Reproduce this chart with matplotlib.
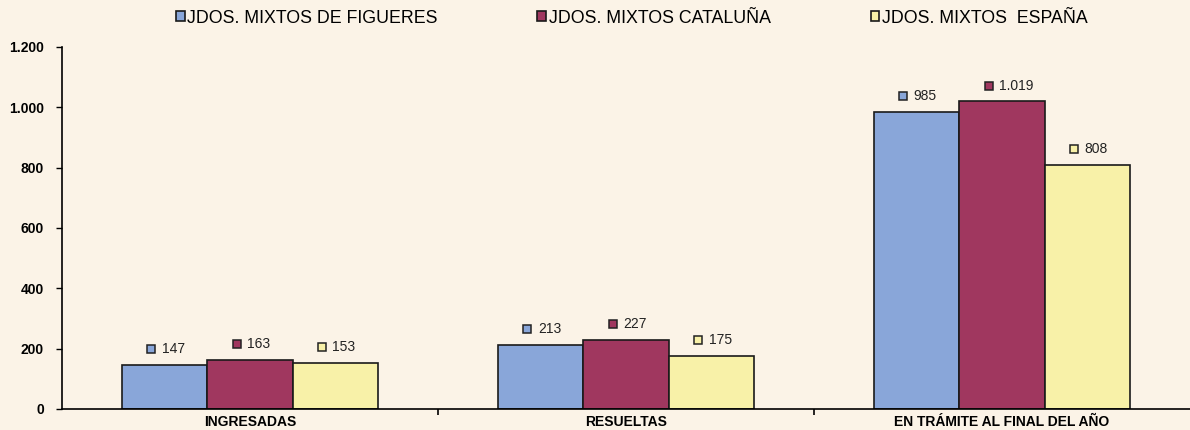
import matplotlib

matplotlib.use("Agg")
import matplotlib.pyplot as plt
import numpy as np
from matplotlib.ticker import FuncFormatter
from matplotlib.transforms import offset_copy

categories = ["INGRESADAS", "RESUELTAS", "EN TRÁMITE AL FINAL DEL AÑO"]
series_names = ["JDOS. MIXTOS DE FIGUERES", "JDOS. MIXTOS CATALUÑA", "JDOS. MIXTOS  ESPAÑA"]
figueres = [147, 213, 985]
cataluna = [163, 227, 1019]
espana = [153, 175, 808]
y_ticks = [0, 200, 400, 600, 800, 1000, 1200]

colors = ["#89a6d9", "#a0375f", "#f8f1a8"]
background = "#fbf3e7"

plt.rcParams["font.family"] = ["Liberation Sans", "DejaVu Sans"]

fig = plt.figure(figsize=(11.9, 4.3), dpi=100, facecolor=background)
ax = fig.add_axes([0.052, 0.049, 0.948, 0.842], facecolor=background)

x = np.arange(len(categories))
width = 0.227
series = [figueres, cataluna, espana]


def thousands(v, _pos=None):
    return f"{int(v):,}".replace(",", ".")


# value labels: a small square in the series colour followed by the number
square_tr = offset_copy(ax.transData, fig=fig, x=-9.5, y=11.5, units="points")
for i, (name, values, color) in enumerate(zip(series_names, series, colors)):
    offset = (i - 1) * width
    ax.bar(x + offset, values, width=width, color=color, edgecolor="#1a1a1a",
           linewidth=1.2, label=name, zorder=2)
    ax.plot(x + offset, values, marker="s", markersize=5.5, markerfacecolor=color,
            markeredgecolor="#222222", markeredgewidth=1.1, linestyle="none",
            transform=square_tr, zorder=3)
    for xi, v in zip(x + offset, values):
        ax.annotate(thousands(v), (xi, v), xytext=(-2, 11.5), textcoords="offset points",
                    ha="left", va="center", fontsize=10, color="#222222")

ax.set_xlim(-0.5, 2.5)
ax.set_ylim(0, 1200)
ax.set_yticks(y_ticks)
ax.yaxis.set_major_formatter(FuncFormatter(thousands))
ax.set_xticks([0.5, 1.5])
ax.set_xticklabels([])
ax.tick_params(axis="x", length=4, width=1.2, direction="out")
ax.tick_params(axis="y", length=4, width=1.0, direction="out", labelsize=10, pad=9)
for lbl in ax.get_yticklabels():
    lbl.set_fontweight("bold")

# category names sit just under the baseline
for xi, cat in zip(x, categories):
    ax.annotate(cat, (xi, 0), xytext=(0, -12.5), textcoords="offset points",
                ha="center", va="baseline", fontsize=10, fontweight="bold")

for side in ("top", "right"):
    ax.spines[side].set_visible(False)
ax.spines["left"].set_linewidth(1.2)
ax.spines["bottom"].set_linewidth(1.2)

fig.legend(*ax.get_legend_handles_labels(), loc="center", bbox_to_anchor=(0.531, 0.958),
           ncol=3, frameon=False, fontsize=12.8, handlelength=0.5, handleheight=0.5,
           handletextpad=0.15, columnspacing=5.6)

fig.savefig("out.png", dpi=100, facecolor=background)
